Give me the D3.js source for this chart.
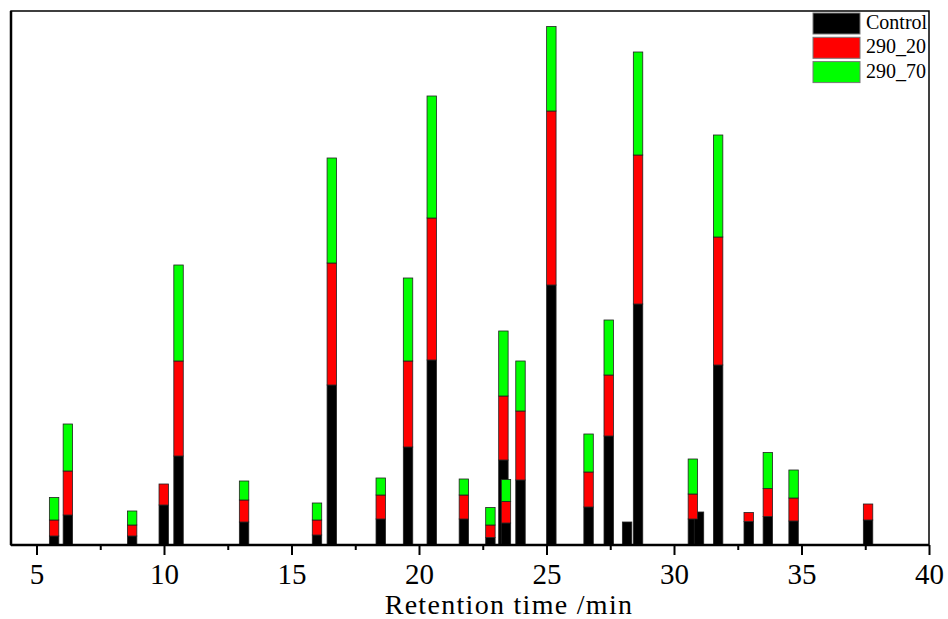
<!DOCTYPE html>
<html>
  <head>
    <meta charset="utf-8">
    <script src="https://d3js.org/d3.v7.min.js"></script>
    <title>Retention time stacked bars</title>
    <style>
      body { margin: 0; background: #fff; }
      text { font-family: "Liberation Serif", "Times New Roman", serif; }
    </style>
  </head>
  <body>
    <svg width="948" height="619"></svg>
    <script>
      // Retention times (min) and peak areas per sample (relative units)
      const times   = [5.69, 6.23, 8.75, 9.99, 10.57, 13.14, 16.0, 16.58, 18.5, 19.57,
                       20.5, 21.76, 22.8, 23.31, 23.41, 23.98, 25.19, 26.65, 27.44, 28.16,
                       28.59, 30.74, 30.98, 31.73, 32.93, 33.68, 34.69, 37.61];
      const control = [1.8, 6.0, 1.8, 8.0, 17.8, 4.6, 2.0, 32.0, 5.2, 19.6,
                       37.0, 5.2, 1.5, 17.0, 4.4, 13.0, 52.0, 7.6, 21.8, 4.6,
                       48.2, 5.2, 6.6, 36.0, 4.7, 5.7, 4.8, 5.0];
      const s290_20 = [3.2, 8.8, 2.2, 4.2, 19.0, 4.4, 3.0, 24.4, 4.8, 17.2,
                       28.4, 4.8, 2.5, 12.8, 4.3, 13.8, 34.8, 7.0, 12.2, 0,
                       29.8, 5.0, 0, 25.6, 1.8, 5.6, 4.6, 3.2];
      const s290_70 = [4.5, 9.4, 2.8, 0, 19.2, 3.8, 3.4, 21.0, 3.4, 16.6,
                       24.4, 3.2, 3.5, 13.0, 4.4, 10.0, 16.9, 7.6, 11.0, 0,
                       20.6, 7.0, 0, 20.4, 0, 7.2, 5.6, 0];

      const keys = ['Control', '290_20', '290_70'];
      const colors = ['#000000', '#ff0000', '#00ff00'];
      const xTicks = [5, 10, 15, 20, 25, 30, 35, 40];
      const xMinor = [7.5, 12.5, 17.5, 22.5, 27.5, 32.5, 37.5];

      const serif = '"Liberation Serif", "Times New Roman", serif';
      const svg = d3.select('svg');
      const plot = { left: 11, right: 929, top: 11, bottom: 545 };

      const rows = times.map((t, i) => ({
        t: t, 'Control': control[i], '290_20': s290_20[i], '290_70': s290_70[i]
      }));

      const x = d3.scaleLinear().domain([4, 40]).range([plot.left, plot.right]);
      const y = d3.scaleLinear().domain([0, 106.8]).range([plot.bottom, plot.top]);
      const color = d3.scaleOrdinal().domain(keys).range(colors);
      const barW = x(4.37) - x(4);

      const series = d3.stack().keys(keys)(rows);

      // bars, one layer per sample
      svg.append('g').selectAll('g').data(series).enter().append('g')
          .attr('fill', d => color(d.key))
        .selectAll('rect').data(d => d.filter(p => p[1] - p[0] > 0)).enter().append('rect')
          .attr('x', d => x(d.data.t) - barW / 2)
          .attr('y', d => y(d[1]))
          .attr('width', barW)
          .attr('height', d => y(d[0]) - y(d[1]))
          .attr('stroke', '#222')
          .attr('stroke-width', 0.8);

      // frame
      svg.append('rect')
        .attr('x', plot.left).attr('y', plot.top)
        .attr('width', plot.right - plot.left).attr('height', plot.bottom - plot.top)
        .attr('fill', 'none').attr('stroke', '#000').attr('stroke-width', 1.5);
      svg.append('line').attr('x1', plot.left).attr('x2', plot.left)
        .attr('y1', plot.top).attr('y2', plot.bottom)
        .attr('stroke', '#000').attr('stroke-width', 2.5);
      svg.append('line').attr('x1', plot.left).attr('x2', plot.right)
        .attr('y1', plot.bottom).attr('y2', plot.bottom)
        .attr('stroke', '#000').attr('stroke-width', 2.5);

      // x axis
      const gx = svg.append('g').attr('transform', `translate(0,${plot.bottom})`)
        .call(d3.axisBottom(x).tickValues(xTicks).tickSize(10).tickPadding(8))
        .attr('font-family', serif);
      gx.select('.domain').remove();
      gx.selectAll('line').attr('stroke-width', 2);
      gx.selectAll('text').attr('font-size', 29).attr('fill', '#000')
        .style('font-family', serif);

      const gm = svg.append('g').attr('transform', `translate(0,${plot.bottom})`)
        .call(d3.axisBottom(x).tickValues(xMinor).tickSize(5).tickFormat(''));
      gm.select('.domain').remove();
      gm.selectAll('line').attr('stroke-width', 2);

      svg.append('text')
        .attr('x', 509).attr('y', 613.5)
        .attr('text-anchor', 'middle')
        .attr('font-size', 28)
        .attr('letter-spacing', 1.3)
        .text('Retention time /min');

      // legend
      const lg = svg.append('g').selectAll('g').data(keys).enter().append('g')
        .attr('transform', (d, i) => `translate(813,${13 + i * 24.3})`);
      lg.append('rect')
        .attr('width', 47).attr('height', 21)
        .attr('fill', d => color(d))
        .attr('stroke', '#777').attr('stroke-width', 1);
      lg.append('text')
        .attr('x', 53).attr('y', 16)
        .attr('font-size', 20)
        .text(d => d);
    </script>
  </body>
</html>
